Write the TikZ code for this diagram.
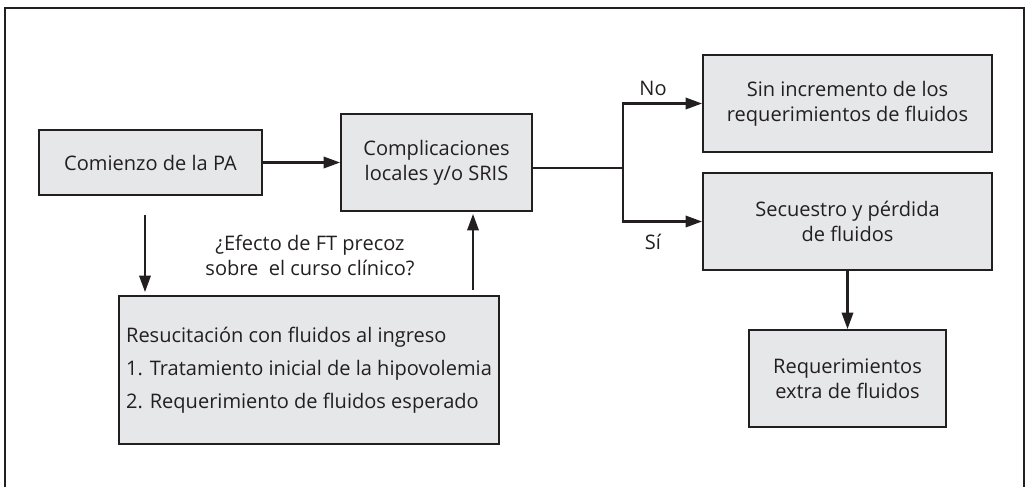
\documentclass[tikz,border=0pt]{standalone}
\usepackage{fontspec}
\setmainfont{Open Sans}
\usetikzlibrary{arrows.meta}
\definecolor{boxgray}{HTML}{E6E7E8}
\definecolor{inkgray}{HTML}{231F20}

\begin{document}
\begin{tikzpicture}[scale=1.0,
    every node/.style={text=inkgray,font=\fontsize{11.4}{14.2}\selectfont},
    caja/.style={draw=inkgray,line width=1.1pt,fill=boxgray,align=center,inner sep=0pt},
    flecha/.style={draw=inkgray,line width=1.2pt,-{Triangle[length=3.3mm,width=2.3mm]}}]

    \useasboundingbox (0,0) rectangle (20.58,-9.72);
    \draw[inkgray,line width=0.7pt] (0.10,-10.2) -- (0.10,-0.16) -- (20.48,-0.16) -- (20.48,-10.2);

    \node[caja,minimum width=4.46cm,minimum height=1.30cm] (comienzo) at (3.01,-3.25) {Comienzo de la PA};
    \node[caja,minimum width=3.82cm,minimum height=1.94cm] (compl) at (8.73,-3.25) {Complicaciones\\locales y/o SRIS};
    \node[caja,minimum width=5.78cm,minimum height=1.94cm] (sinincr) at (16.95,-2.07) {Sin incremento de los\\requerimientos de fluidos};
    \node[caja,minimum width=5.78cm,minimum height=1.94cm] (secuestro) at (16.95,-4.43) {Secuestro y pérdida\\de fluidos};
    \node[caja,minimum width=3.94cm,minimum height=1.94cm] (extra) at (16.95,-7.57) {Requerimientos\\extra de fluidos};
    \node[caja,minimum width=7.60cm,minimum height=2.96cm,align=left,
        font=\fontsize{11.4}{18.8}\selectfont] (resuc) at (6.18,-7.40)
        {Resucitación con fluidos al ingreso\\1. Tratamiento inicial de la hipovolemia\\2. Requerimiento de fluidos esperado};

    \coordinate (rama) at (12.46,-3.36);
    \coordinate (baja) at (2.90,-4.30);
    \coordinate (sube) at (9.46,-5.86);

    \draw[flecha] (comienzo) -- (compl);
    \draw[inkgray,line width=1.2pt] (compl.east |- rama) -- (rama);
    \draw[flecha] (rama) |- (sinincr.west);
    \draw[flecha] (rama) |- (secuestro.west);
    \draw[flecha] (secuestro) -- (extra);
    \draw[flecha,shorten >=0.06cm] (baja) -- (baja |- resuc.north);
    \draw[flecha,shorten <=0.06cm,shorten >=0.04cm] (sube) -- (sube |- compl.south);

    \node (no) at (13.06,-1.76) {No};
    \node (si) at (13.06,-4.84) {Sí};
    \node[align=center] (efecto) at (6.20,-5.10) {¿Efecto de FT precoz\\sobre\ \ el curso clínico?};

\end{tikzpicture}
\end{document}
